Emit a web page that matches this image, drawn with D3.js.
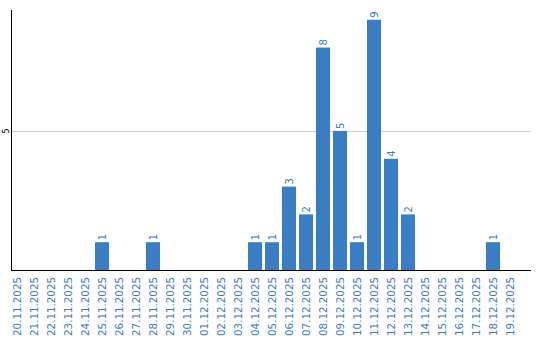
<html>
<script src="https://cdn.jsdelivr.net/npm/d3@7"></script>
<body style="margin:0"></body>
<script>
const width = 540;
const height = 340;

const dates = ['20.11.2025','21.11.2025','22.11.2025','23.11.2025','24.11.2025','25.11.2025',
    '26.11.2025','27.11.2025','28.11.2025','29.11.2025','30.11.2025','01.12.2025','02.12.2025',
    '03.12.2025','04.12.2025','05.12.2025','06.12.2025','07.12.2025','08.12.2025','09.12.2025',
    '10.12.2025','11.12.2025','12.12.2025','13.12.2025','14.12.2025','15.12.2025','16.12.2025',
    '17.12.2025','18.12.2025','19.12.2025'];
const counts = [0,0,0,0,0,1,0,0,1,0,0,0,0,0,1,1,3,2,8,5,1,9,4,2,0,0,0,0,1,0];
const yTicks = [5];

const blue = '#3b7dc3';
const baseY = 270;
const topY = 10;

const svg = d3.select('body').append('svg')
    .attr('width', width)
    .attr('height', height);

const x = d3.scaleBand()
    .domain(dates)
    .range([8.5, 518.5])
    .paddingInner(3/17)
    .paddingOuter(1.5/17);

const y = d3.scaleLinear()
    .domain([0, 9.35])
    .range([baseY, topY]);

// grid
svg.selectAll('line.grid')
    .data(yTicks)
    .enter()
    .append('line')
        .attr('class','grid')
        .attr('x1', 11).attr('x2', 531)
        .attr('y1', d=>y(d)+0.5).attr('y2', d=>y(d)+0.5)
        .attr('stroke', '#cccccc');

svg.selectAll('text.ytick')
    .data(yTicks)
    .enter()
    .append('text')
        .attr('class','ytick')
        .attr('transform', d=>`translate(6,${y(d)}) rotate(-90)`)
        .attr('text-anchor','middle')
        .attr('dy','0.35em')
        .style('font-family','DejaVu Sans')
        .style('font-size','8px')
        .text(d=>d);

// bars
const data = dates.map((d,i)=>({date:d, value:counts[i]}));
svg.selectAll('rect')
    .data(data.filter(d=>d.value>0))
    .enter()
    .append('rect')
        .attr('x', d=>x(d.date))
        .attr('y', d=>y(d.value))
        .attr('width', x.bandwidth())
        .attr('height', d=>baseY - y(d.value))
        .attr('fill', blue);

svg.selectAll('text.val')
    .data(data.filter(d=>d.value>0))
    .enter()
    .append('text')
        .attr('class','val')
        .attr('transform', d=>`translate(${x(d.date)+x.bandwidth()/2},${y(d.value)-2}) rotate(-90)`)
        .attr('dy','0.35em')
        .attr('fill', blue)
        .style('font-family','DejaVu Sans')
        .style('font-size','10px')
        .text(d=>d.value);

// axes lines
svg.append('line')
    .attr('x1', 11.5).attr('x2', 11.5)
    .attr('y1', topY).attr('y2', baseY+1)
    .attr('stroke','black');
svg.append('line')
    .attr('x1', 11).attr('x2', 531)
    .attr('y1', baseY+0.5).attr('y2', baseY+0.5)
    .attr('stroke','black');

// date labels
svg.selectAll('text.date')
    .data(dates)
    .enter()
    .append('text')
        .attr('class','date')
        .attr('transform', d=>`translate(${x(d)+x.bandwidth()/2},277) rotate(-90)`)
        .attr('text-anchor','end')
        .attr('dy','0.35em')
        .attr('fill', blue)
        .style('font-family','DejaVu Sans')
        .style('font-size','10.3px')
        .text(d=>d);
</script>
</html>
